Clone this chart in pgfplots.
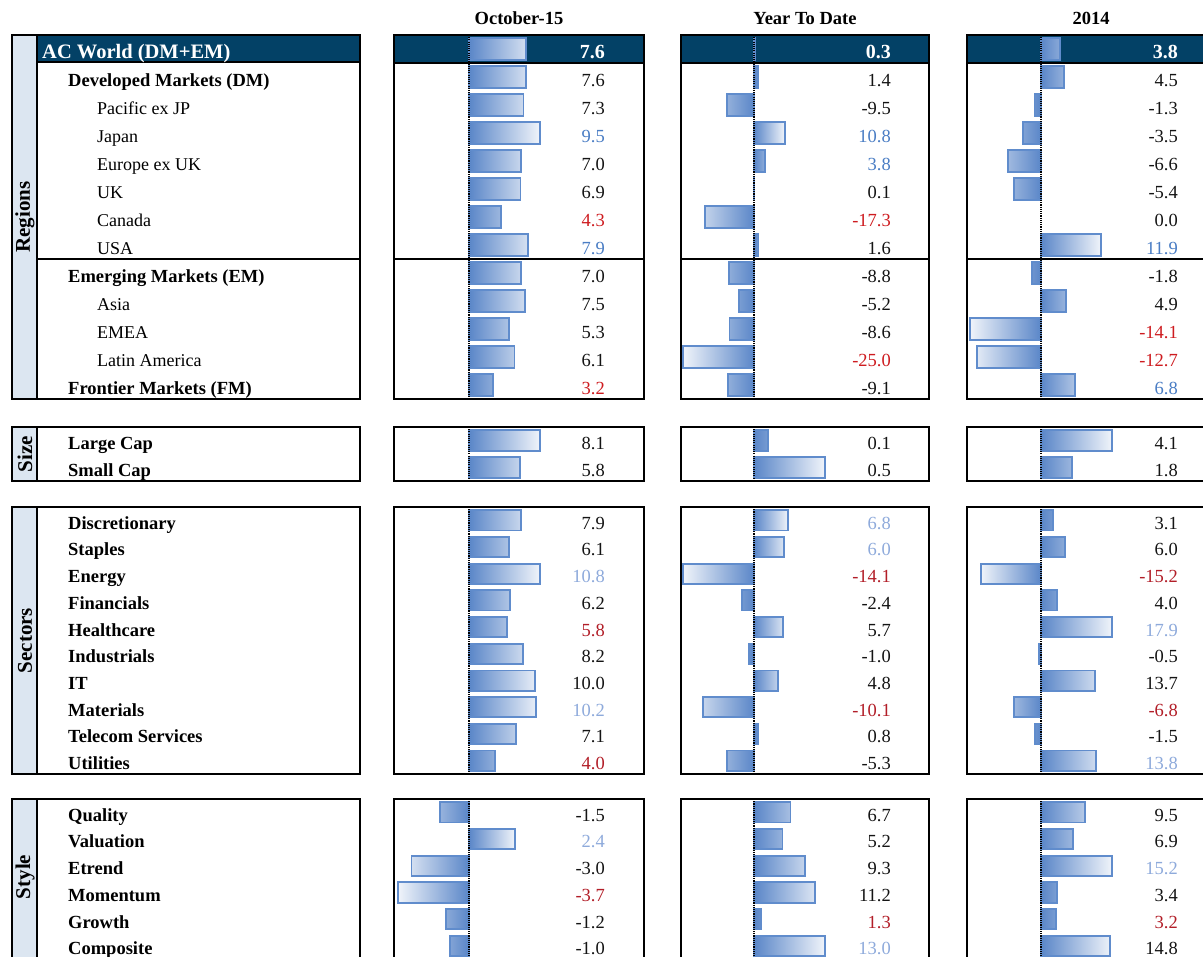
\documentclass[border=0pt]{standalone}
\usepackage{pgfplots}
\pgfplotsset{compat=1.18}
\usepackage{pgfplotstable}
\usepackage{fontspec}
\setmainfont{Liberation Serif}
\definecolor{navy}{RGB}{3,65,102}
\definecolor{strip}{RGB}{220,230,241}
\definecolor{barblue}{RGB}{90,134,200}
\definecolor{barlight}{RGB}{240,244,250}
\definecolor{barline}{RGB}{96,140,204}
\definecolor{valblue}{RGB}{74,125,196}
\definecolor{vallblue}{RGB}{142,170,219}
\definecolor{valred}{RGB}{206,28,32}
\definecolor{valdred}{RGB}{178,30,40}
\definecolor{txk}{RGB}{20,20,20}

\newcommand\fL{\fontsize{18}{20}\selectfont}
\newcommand\fB{\fontsize{18.5}{20}\selectfont\bfseries}
\newcommand\fN{\fontsize{18.5}{20}\selectfont}
\newcommand\fS{\fontsize{21}{22}\selectfont\bfseries}

% ---------------- data ----------------
\pgfplotstableread{
y v
0 7.6
1 7.6
2 7.3
3 9.5
4 7.0
5 6.9
6 4.3
7 7.9
8 7.0
9 7.5
10 5.3
11 6.1
12 3.2
}\regA
\pgfplotstableread{
y v
0 0.3
1 1.4
2 -9.5
3 10.8
4 3.8
5 0.1
6 -17.3
7 1.6
8 -8.8
9 -5.2
10 -8.6
11 -25.0
12 -9.1
}\regB
\pgfplotstableread{
y v
0 3.8
1 4.5
2 -1.3
3 -3.5
4 -6.6
5 -5.4
6 0.0
7 11.9
8 -1.8
9 4.9
10 -14.1
11 -12.7
12 6.8
}\regC
\pgfplotstableread{
y v
0 8.1
1 5.8
}\sizA
\pgfplotstableread{
y v
0 0.1
1 0.5
}\sizB
\pgfplotstableread{
y v
0 4.1
1 1.8
}\sizC
\pgfplotstableread{
y v
0 7.9
1 6.1
2 10.8
3 6.2
4 5.8
5 8.2
6 10.0
7 10.2
8 7.1
9 4.0
}\secA
\pgfplotstableread{
y v
0 6.8
1 6.0
2 -14.1
3 -2.4
4 5.7
5 -1.0
6 4.8
7 -10.1
8 0.8
9 -5.3
}\secB
\pgfplotstableread{
y v
0 3.1
1 6.0
2 -15.2
3 4.0
4 17.9
5 -0.5
6 13.7
7 -6.8
8 -1.5
9 13.8
}\secC
\pgfplotstableread{
y v
0 -1.5
1 2.4
2 -3.0
3 -3.7
4 -1.2
5 -1.0
}\styA
\pgfplotstableread{
y v
0 6.7
1 5.2
2 9.3
3 11.2
4 1.3
5 13.0
}\styB
\pgfplotstableread{
y v
0 9.5
1 6.9
2 15.2
3 3.4
4 3.2
5 14.8
}\styC

\pgfplotsset{
 panel/.style={scale only axis, anchor=north west, y dir=reverse, xtick=\empty, ytick=\empty,
   axis line style={line width=1.5pt}, ymin=-0.5, axis on top, clip=false},
 bars/.style={xbar, bar shift=0pt, bar width=0.76, draw=barline, line width=1.8pt},
 posbar/.style={bars, left color=barblue, right color=barlight, restrict x to domain=0.01:1000},
 negbar/.style={bars, left color=barlight, right color=barblue, restrict x to domain=-1000:-0.01},
}

% #1 left, #2 top, #3 width, #4 height, #5 ymax, #6 px left of zero, #7 max |v|, #8 table, #9 extra
\newcommand\panelaxis[9]{%
\begin{axis}[panel, at={(#1pt,-#2pt)}, width=#3pt, height=#4pt, ymax=#5,
   xmin={-#6/71*#7}, xmax={175/71*#7}]
#9
\addplot[posbar] table[x=v,y=y]{#8};
\addplot[negbar] table[x=v,y=y]{#8};
\draw[line width=1.1pt, dash pattern=on 1.1pt off 1.1pt] (axis cs:0,-0.5) -- (axis cs:0,#5);
\end{axis}}

\newcommand\regextra{%
\fill[navy] ({rel axis cs:0,0}|-{axis cs:0,-0.5}) rectangle ({rel axis cs:1,0}|-{axis cs:0,0.5});
\draw[line width=1.5pt] ({rel axis cs:0,0}|-{axis cs:0,0.5}) -- ({rel axis cs:1,0}|-{axis cs:0,0.5});
\draw[line width=1.5pt] ({rel axis cs:0,0}|-{axis cs:0,7.5}) -- ({rel axis cs:1,0}|-{axis cs:0,7.5});}

\begin{document}
\begin{tikzpicture}[x=1pt,y=-1pt]
\useasboundingbox (0,0) rectangle (1203,957);
\clip (0,0) rectangle (1203,957);

% headers
\node[anchor=base, inner sep=0pt] at (519,25) {\fB October-15};
\node[anchor=base, inner sep=0pt] at (805,25) {\fB Year To Date};
\node[anchor=base, inner sep=0pt] at (1091,25) {\fB 2014};

% ---------- label boxes ----------
\fill[strip] (12,35) rectangle (37,399);
\fill[navy] (37,35) rectangle (360,62);
\draw[line width=1.5pt] (12,35) rectangle (360,399);
\draw[line width=1.5pt] (37,35) -- (37,399);
\draw[line width=1.5pt] (37,62) -- (360,62);
\draw[line width=1.5pt] (37,259) -- (360,259);

\fill[strip] (12,427) rectangle (37,481);
\draw[line width=1.5pt] (12,427) rectangle (360,481);
\draw[line width=1.5pt] (37,427) -- (37,481);

\fill[strip] (12,507) rectangle (37,774);
\draw[line width=1.5pt] (12,507) rectangle (360,774);
\draw[line width=1.5pt] (37,507) -- (37,774);

\fill[strip] (12,799) rectangle (37,960);
\draw[line width=1.5pt] (12,799) rectangle (360,960);
\draw[line width=1.5pt] (37,799) -- (37,960);

\node[rotate=90, inner sep=0pt] at (25,217) {\fS Regions};
\node[rotate=90, inner sep=0pt] at (25,454) {\fS Size};
\node[rotate=90, inner sep=0pt] at (25,640.5) {\fS Sectors};
\node[rotate=90, inner sep=0pt] at (25,877) {\fS Style};

% ---------- row labels ----------
\node[anchor=base west, inner sep=0pt, text=white] at (42,58.5) {\fontsize{20.5}{22}\selectfont\bfseries AC World (DM+EM)};
\foreach \t/\b [count=\i from 1] in {Developed Markets (DM)/1,Pacific ex JP/0,Japan/0,Europe ex UK/0,UK/0,Canada/0,USA/0,Emerging Markets (EM)/1,Asia/0,EMEA/0,Latin America/0,Frontier Markets (FM)/1}{
  \ifnum\b=1
    \node[anchor=base west, inner sep=0pt] at (68,{58.5+28*\i}) {\fB \t};
  \else
    \node[anchor=base west, inner sep=0pt] at (97,{58.5+28*\i}) {\fL \t};
  \fi
}
\foreach \t [count=\i from 0] in {Large Cap,Small Cap}
  \node[anchor=base west, inner sep=0pt] at (68,{449.5+27*\i}) {\fB \t};
\foreach \t [count=\i from 0] in {Discretionary,Staples,Energy,Financials,Healthcare,Industrials,IT,Materials,Telecom Services,Utilities}
  \node[anchor=base west, inner sep=0pt] at (68,{529.2+26.7*\i}) {\fB \t};
\foreach \t [count=\i from 0] in {Quality,Valuation,Etrend,Momentum,Growth,Composite}
  \node[anchor=base west, inner sep=0pt] at (68,{821.2+26.7*\i}) {\fB \t};

% ---------- bar panels ----------
\panelaxis{394}{35}{250}{364}{12.5}{75}{9.5}{\regA}{\regextra}
\panelaxis{681}{35}{248}{364}{12.5}{73}{25.0}{\regB}{\regextra}
\panelaxis{967}{35}{249}{364}{12.5}{74}{14.1}{\regC}{\regextra}

\panelaxis{394}{427}{250}{54}{1.5}{75}{8.1}{\sizA}{}
\panelaxis{681}{427}{248}{54}{1.5}{73}{0.5}{\sizB}{}
\panelaxis{967}{427}{249}{54}{1.5}{74}{4.1}{\sizC}{}

\panelaxis{394}{507}{250}{267}{9.5}{75}{10.8}{\secA}{}
\panelaxis{681}{507}{248}{267}{9.5}{73}{14.1}{\secB}{}
\panelaxis{967}{507}{249}{267}{9.5}{74}{17.9}{\secC}{}

\panelaxis{394}{799}{250}{160.2}{5.5}{75}{3.7}{\styA}{}
\panelaxis{681}{799}{248}{160.2}{5.5}{73}{13.0}{\styB}{}
\panelaxis{967}{799}{249}{160.2}{5.5}{74}{15.2}{\styC}{}

% ---------- values ----------
\node[anchor=base east, inner sep=0pt, text=white] at (605,58.5) {\fontsize{20}{22}\selectfont\bfseries 7.6};
\node[anchor=base east, inner sep=0pt, text=white] at (891,58.5) {\fontsize{20}{22}\selectfont\bfseries 0.3};
\node[anchor=base east, inner sep=0pt, text=white] at (1178,58.5) {\fontsize{20}{22}\selectfont\bfseries 3.8};

\foreach \v/\c [count=\i from 1] in {7.6/txk,7.3/txk,9.5/valblue,7.0/txk,6.9/txk,4.3/valred,7.9/valblue,7.0/txk,7.5/txk,5.3/txk,6.1/txk,3.2/valred}
  \node[anchor=base east, inner sep=0pt, text=\c] at (605,{58.5+28*\i}) {\fN\v};
\foreach \v/\c [count=\i from 1] in {1.4/txk,-9.5/txk,10.8/valblue,3.8/valblue,0.1/txk,-17.3/valred,1.6/txk,-8.8/txk,-5.2/txk,-8.6/txk,-25.0/valred,-9.1/txk}
  \node[anchor=base east, inner sep=0pt, text=\c] at (891,{58.5+28*\i}) {\fN\v};
\foreach \v/\c [count=\i from 1] in {4.5/txk,-1.3/txk,-3.5/txk,-6.6/txk,-5.4/txk,0.0/txk,11.9/valblue,-1.8/txk,4.9/txk,-14.1/valred,-12.7/valred,6.8/valblue}
  \node[anchor=base east, inner sep=0pt, text=\c] at (1178,{58.5+28*\i}) {\fN\v};

\foreach \v/\c [count=\i from 0] in {8.1/txk,5.8/txk}
  \node[anchor=base east, inner sep=0pt, text=\c] at (605,{449.5+27*\i}) {\fN\v};
\foreach \v/\c [count=\i from 0] in {0.1/txk,0.5/txk}
  \node[anchor=base east, inner sep=0pt, text=\c] at (891,{449.5+27*\i}) {\fN\v};
\foreach \v/\c [count=\i from 0] in {4.1/txk,1.8/txk}
  \node[anchor=base east, inner sep=0pt, text=\c] at (1178,{449.5+27*\i}) {\fN\v};

\foreach \v/\c [count=\i from 0] in {7.9/txk,6.1/txk,10.8/vallblue,6.2/txk,5.8/valdred,8.2/txk,10.0/txk,10.2/vallblue,7.1/txk,4.0/valdred}
  \node[anchor=base east, inner sep=0pt, text=\c] at (605,{529.2+26.7*\i}) {\fN\v};
\foreach \v/\c [count=\i from 0] in {6.8/vallblue,6.0/vallblue,-14.1/valdred,-2.4/txk,5.7/txk,-1.0/txk,4.8/txk,-10.1/valdred,0.8/txk,-5.3/txk}
  \node[anchor=base east, inner sep=0pt, text=\c] at (891,{529.2+26.7*\i}) {\fN\v};
\foreach \v/\c [count=\i from 0] in {3.1/txk,6.0/txk,-15.2/valdred,4.0/txk,17.9/vallblue,-0.5/txk,13.7/txk,-6.8/valdred,-1.5/txk,13.8/vallblue}
  \node[anchor=base east, inner sep=0pt, text=\c] at (1178,{529.2+26.7*\i}) {\fN\v};

\foreach \v/\c [count=\i from 0] in {-1.5/txk,2.4/vallblue,-3.0/txk,-3.7/valdred,-1.2/txk,-1.0/txk}
  \node[anchor=base east, inner sep=0pt, text=\c] at (605,{821.2+26.7*\i}) {\fN\v};
\foreach \v/\c [count=\i from 0] in {6.7/txk,5.2/txk,9.3/txk,11.2/txk,1.3/valdred,13.0/vallblue}
  \node[anchor=base east, inner sep=0pt, text=\c] at (891,{821.2+26.7*\i}) {\fN\v};
\foreach \v/\c [count=\i from 0] in {9.5/txk,6.9/txk,15.2/vallblue,3.4/txk,3.2/valdred,14.8/txk}
  \node[anchor=base east, inner sep=0pt, text=\c] at (1178,{821.2+26.7*\i}) {\fN\v};
\end{tikzpicture}
\end{document}
